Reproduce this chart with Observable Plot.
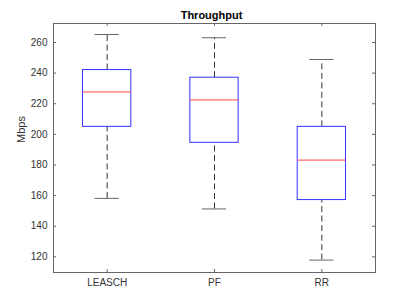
<!DOCTYPE html>
<html>
<head>
<meta charset="utf-8">
<script src="https://cdn.jsdelivr.net/npm/d3@7"></script>
<script src="https://cdn.jsdelivr.net/npm/@observablehq/plot@0.6"></script>
<style>
  html, body { margin: 0; padding: 0; background: #fff; }
  svg { display: block; }
</style>
</head>
<body>
<div id="chart"></div>
<script>
const categories = ["LEASCH", "PF", "RR"];
const lowerWhisker = [158.2, 151.3, 117.9];
const q1 = [204.9, 194.5, 157.1];
const median = [227.7, 222.5, 183.2];
const q3 = [242.0, 237.0, 204.9];
const upperWhisker = [265.2, 263.1, 248.9];
const yTicks = [120, 140, 160, 180, 200, 220, 240, 260];
const title = "Throughput";
const yLabel = "Mbps";

const data = categories.map((c, i) => ({
  pos: i + 1, name: c,
  lo: lowerWhisker[i], q1: q1[i], med: median[i], q3: q3[i], hi: upperWhisker[i]
}));

const W = 415, H = 306;
const mL = 53, mR = 40, mT = 23, mB = 34;
const pw = W - mL - mR, ph = H - mT - mB;
const half = 0.225, cap = 0.1125;
const font = "Liberation Sans, Arial, Helvetica, sans-serif";

const chart = Plot.plot({
  width: W, height: H,
  marginLeft: mL, marginRight: mR, marginTop: mT, marginBottom: mB,
  style: { fontFamily: font, fontSize: "10px", color: "#333", background: "#fff" },
  x: { type: "linear", domain: [0.5, 3.5] },
  y: { domain: [109.8, 272.4] },
  marks: [
    // whiskers
    Plot.ruleX(data, { x: "pos", y1: "q3", y2: "hi", stroke: "#333", strokeDasharray: "6,3.5", strokeWidth: 1 }),
    Plot.ruleX(data, { x: "pos", y1: "lo", y2: "q1", stroke: "#333", strokeDasharray: "6,3.5", strokeWidth: 1 }),
    // caps
    Plot.ruleY(data, { y: "hi", x1: d => d.pos - cap, x2: d => d.pos + cap, stroke: "#666", strokeWidth: 1 }),
    Plot.ruleY(data, { y: "lo", x1: d => d.pos - cap, x2: d => d.pos + cap, stroke: "#666", strokeWidth: 1 }),
    // boxes
    Plot.rect(data, { x1: d => d.pos - half, x2: d => d.pos + half, y1: "q1", y2: "q3", fill: "none", stroke: "#3333ff", strokeWidth: 1 }),
    // medians
    Plot.ruleY(data, { y: "med", x1: d => d.pos - half, x2: d => d.pos + half, stroke: "#ff4444", strokeWidth: 1 }),
    // frame
    Plot.frame({ stroke: "#666", strokeWidth: 1 }),
    // inward ticks
    Plot.tickY(yTicks, { y: d => d, insetRight: pw - 3, stroke: "#666" }),
    Plot.tickY(yTicks, { y: d => d, insetLeft: pw - 3, stroke: "#666" }),
    Plot.tickX(data, { x: "pos", insetBottom: ph - 3, stroke: "#666" }),
    Plot.tickX(data, { x: "pos", insetTop: ph - 3, stroke: "#666" }),
    // axes
    Plot.axisY(yTicks, { tickSize: 0, tickPadding: 6, fontSize: 10, fill: "#333", label: null }),
    Plot.axisX(data.map(d => d.pos), { tickSize: 0, tickPadding: 6, fontSize: 10, fill: "#333",
      tickFormat: d => categories[d - 1], label: null }),
    // y label
    Plot.text([yLabel], { frameAnchor: "left", dx: -32, dy: -5, rotate: -90, fontSize: 11, fill: "#333", text: d => d }),
    // title
    Plot.text([title], { frameAnchor: "top", dy: -12, dx: -3, fontWeight: "bold", fontSize: 11, fill: "#000", text: d => d })
  ]
});
document.getElementById("chart").appendChild(chart);
</script>
</body>
</html>
